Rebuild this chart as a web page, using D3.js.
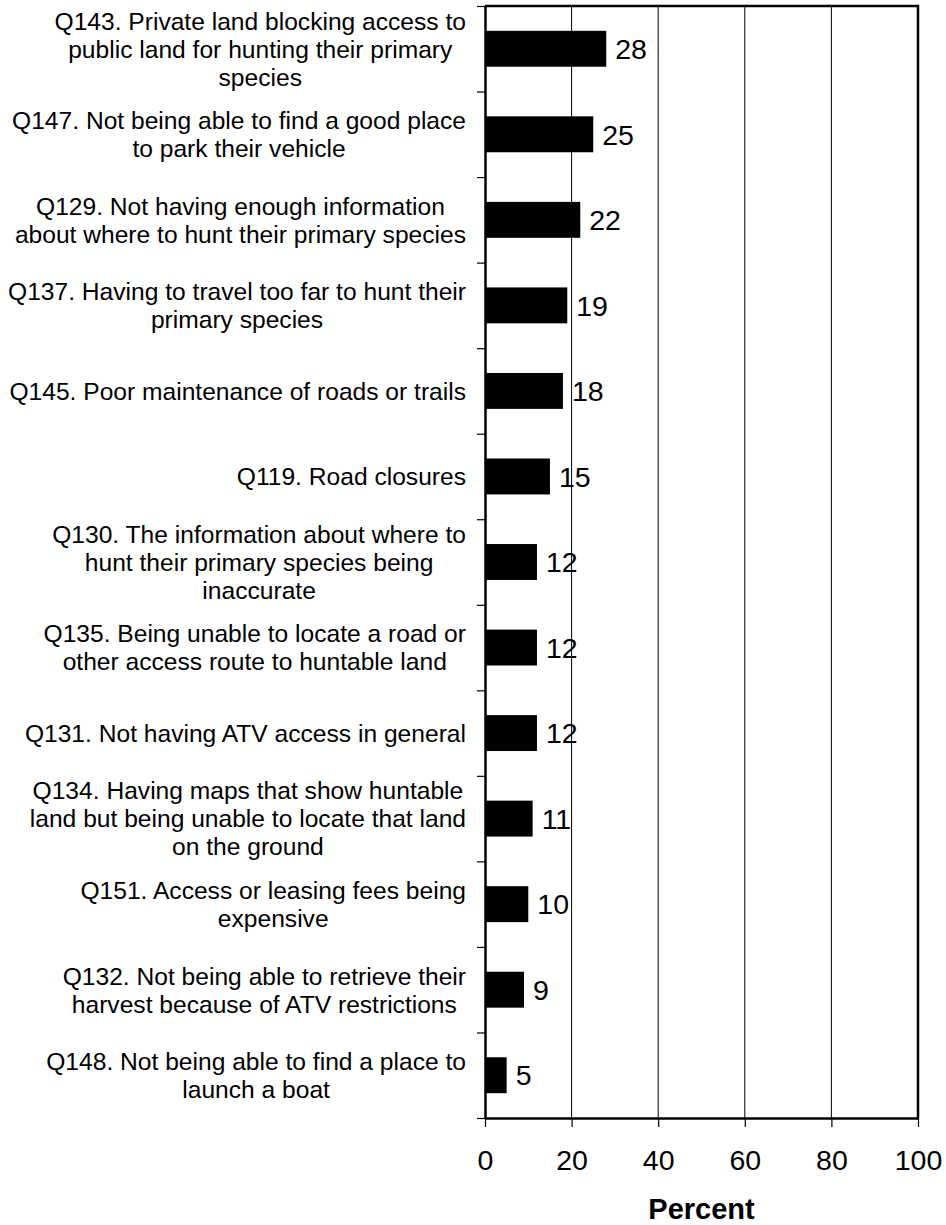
<!DOCTYPE html>
<html>
<head>
<meta charset="utf-8">
<script src="https://cdn.jsdelivr.net/npm/d3@7"></script>
<style>
  body { margin: 0; background: #fff; }
  svg { display: block; font-family: Arial, "Liberation Sans", sans-serif; }
</style>
</head>
<body>
<section></section>
<script>
const labels = [
  ["Q143. Private land blocking access to", "public land for hunting their primary", "species"],
  ["Q147. Not being able to find a good place", "to park their vehicle"],
  ["Q129. Not having enough information", "about where to hunt their primary species"],
  ["Q137. Having to travel too far to hunt their", "primary species"],
  ["Q145. Poor maintenance of roads or trails"],
  ["Q119. Road closures"],
  ["Q130. The information about where to", "hunt their primary species being", "inaccurate"],
  ["Q135. Being unable to locate a road or", "other access route to huntable land"],
  ["Q131. Not having ATV access in general"],
  ["Q134. Having maps that show huntable", "land but being unable to locate that land", "on the ground"],
  ["Q151. Access or leasing fees being", "expensive"],
  ["Q132. Not being able to retrieve their", "harvest because of ATV restrictions"],
  ["Q148. Not being able to find a place to", "launch a boat"]
];
const values = [28, 25, 22, 19, 18, 15, 12, 12, 12, 11, 10, 9, 5];
const xTicks = [0, 20, 40, 60, 80, 100];

const w = 946;
const h = 1225;
const plotLeft = 485;
const plotRight = 918;
const plotTop = 6;
const plotBottom = 1118;

const svg = d3.select("section")
  .append("svg")
  .attr("width", w)
  .attr("height", h);

const x = d3.scaleLinear().domain([0, 100]).range([plotLeft, plotRight]);
const y = d3.scaleBand()
  .domain(d3.range(labels.length))
  .range([plotTop, plotBottom])
  .paddingInner(0.58)
  .paddingOuter(0.29);
const yEdge = d3.scaleLinear().domain([0, labels.length]).range([plotTop, plotBottom]);

// grid lines
svg.append("g")
  .selectAll("line")
  .data(xTicks.slice(1, -1))
  .enter()
  .append("line")
  .attr("x1", d => x(d))
  .attr("x2", d => x(d))
  .attr("y1", plotTop)
  .attr("y2", plotBottom)
  .attr("stroke", "#000")
  .attr("stroke-width", 1);

// frame top + right
svg.append("path")
  .attr("d", `M${plotLeft},${plotTop}H${plotRight}V${plotBottom}`)
  .attr("fill", "none")
  .attr("stroke", "#000")
  .attr("stroke-width", 2.5);

// bars
svg.append("g")
  .selectAll("rect")
  .data(values)
  .enter()
  .append("rect")
  .attr("x", x(0))
  .attr("y", (d, i) => y(i))
  .attr("width", d => x(d) - x(0))
  .attr("height", y.bandwidth())
  .attr("fill", "#000");

// value labels
svg.append("g")
  .selectAll("text")
  .data(values)
  .enter()
  .append("text")
  .attr("x", d => x(d) + 9)
  .attr("y", (d, i) => y(i) + y.bandwidth() / 2)
  .attr("dy", "0.36em")
  .attr("font-size", 28.5)
  .text(d => d);

// y axis (ticks between categories)
const yAxis = svg.append("g")
  .attr("transform", `translate(${plotLeft},0)`)
  .call(d3.axisLeft(yEdge).ticks(labels.length).tickSize(8).tickSizeOuter(0).tickFormat(""));
yAxis.select(".domain").attr("stroke-width", 2.5);
yAxis.selectAll(".tick line").attr("stroke-width", 1.2);

// x axis
const xAxis = svg.append("g")
  .attr("transform", `translate(0,${plotBottom})`)
  .call(d3.axisBottom(x).tickValues(xTicks).tickSize(9).tickSizeOuter(0).tickPadding(23));
xAxis.select(".domain").attr("stroke-width", 2.5);
xAxis.selectAll(".tick line").attr("stroke-width", 1.2);
xAxis.selectAll(".tick text")
  .attr("font-size", 28.5)
  .attr("font-family", "Arial, 'Liberation Sans', sans-serif")
  .attr("fill", "#000");

// category labels, lines centred within each block
const lineH = 28;
const labelRight = 466;
labels.forEach((lines, i) => {
  const g = svg.append("g");
  const cy = y(i) + y.bandwidth() / 2;
  const t = g.selectAll("text")
    .data(lines)
    .enter()
    .append("text")
    .attr("font-size", 24.6)
    .attr("text-anchor", "middle")
    .attr("y", (d, j) => cy + (j - (lines.length - 1) / 2) * lineH)
    .attr("dy", "0.36em")
    .text(d => d);
  const maxW = d3.max(t.nodes(), n => n.getComputedTextLength());
  t.attr("x", labelRight - maxW / 2);
});

svg.append("text")
  .attr("x", (plotLeft + plotRight) / 2)
  .attr("y", 1219)
  .attr("text-anchor", "middle")
  .attr("font-size", 29)
  .attr("font-weight", "bold")
  .text("Percent");
</script>
</body>
</html>
